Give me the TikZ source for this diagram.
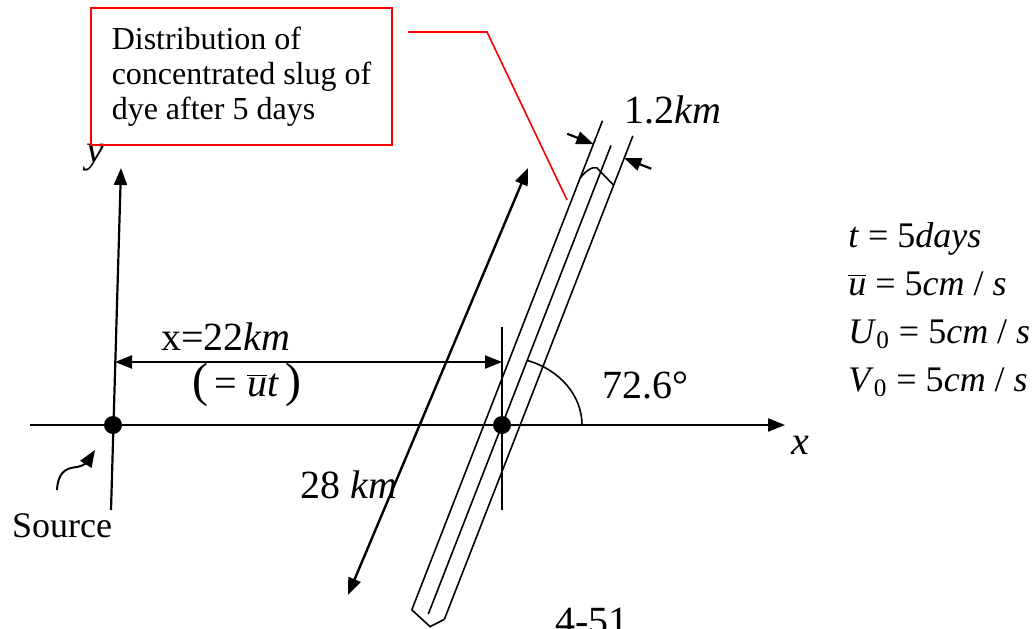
\documentclass[tikz,border=0pt]{standalone}
\usepackage{fontspec}
\setmainfont{Liberation Serif}
\usetikzlibrary{arrows.meta,positioning}

\begin{document}
\begin{tikzpicture}[
        x=0.5pt, y=0.5pt,
        tip/.style={-{Triangle[length=8.5pt,width=6.5pt]}},
        axis/.style={line width=1.1pt, tip},
        dimarrow/.style={line width=1.2pt, {Triangle[length=8.5pt,width=6.5pt]}-{Triangle[length=8.5pt,width=6.5pt]}},
        slugline/.style={line width=0.8pt},
        leader/.style={draw=red, line width=0.8pt},
        lbl/.style={inner sep=0pt, font=\fontsize{20}{24}\selectfont},
        eqn/.style={anchor=base west, inner sep=0pt, font=\fontsize{18}{24}\selectfont},
        dot/.style={circle, fill=black, minimum size=9pt, inner sep=0pt}
      ]
      \useasboundingbox (0,0) rectangle (1032,628);

      % axes
      \coordinate (xstart) at (30,203);
      \coordinate (xend) at (785,203);
      \coordinate (ybot) at (111,118);
      \coordinate (ytop) at (121,460);
      \draw[axis] (xstart) -- (xend);
      \draw[axis] (ybot) -- (ytop);
      \node[lbl, font=\fontsize{20}{24}\selectfont\itshape] (xlab) at (800,183) {x};
      \node[lbl, font=\fontsize{20}{24}\selectfont\itshape] (ylab) at (95,470) {y};

      \node[dot] (src) at (113,203) {};
      \node[dot] (slugc) at (502,203) {};

      % source
      \node[lbl, font=\fontsize{18}{24}\selectfont, anchor=base] (srclab) at (62,91) {Source};
      \coordinate (curlA) at (57,138);
      \coordinate (curlB) at (95,178);
      \draw[line width=1pt, tip] (curlA) .. controls (58,155) and (65,160) .. (77,161)
        .. controls (84,162) and (88,167) .. (curlB);

      % distance x
      \coordinate (tickbot) at (502,118);
      \coordinate (ticktop) at (502,301);
      \draw[slugline] (tickbot) -- (ticktop);
      \coordinate (xdA) at (115,266);
      \coordinate (xdB) at (502,266);
      \draw[dimarrow, line width=1.1pt] (xdA) -- (xdB);
      \node[lbl] (xdist) at (226,291) {x=22\textit{km}};
      \node[lbl] (xut) at (247,243) {{\fontsize{24}{24}\selectfont(}\,= \(\overline{\textit{u}}\)\textit{t}\,{\fontsize{24}{24}\selectfont)}};

      % slug of dye
      \begin{scope}[shift={(slugc)}, rotate=68.7, slugline]
        \draw (-205,16.9) -- (320,16.9);
        \draw (-203,0) -- (300,0);
        \draw (-202,-16.9) -- (317,-16.9);
        \draw (258,16.9) .. controls (266,15) and (274,10) .. (274,5) -- (264,-16.9);
        \draw (-205,16.9) -- (-214,-6.3) -- (-202,-16.9);
        \draw[tip, line width=1.1pt] (295,45) -- (295,16.9);
        \draw[tip, line width=1.1pt] (293,-46) -- (293,-16.9);
      \end{scope}
      \node[lbl] (width) at (673,518) {1.2\textit{km}};

      % angle
      \draw[slugline] ([xshift=40pt]slugc.center) arc[start angle=0, end angle=71, x radius=80, y radius=68];
      \node[lbl] (angle) at (645,243) {72.6°};

      % length
      \coordinate (lenA) at (348,33);
      \coordinate (lenB) at (528,460);
      \draw[dimarrow] (lenA) -- (lenB);
      \node[lbl] (len) at (349,143) {28 \textit{km}};

      % note
      \node[draw=red, line width=0.8pt, minimum width=150.5pt, minimum height=68.5pt,
            align=left, font=\fontsize{16}{17.5}\selectfont] (note) at (241.5,551.5)
        {Distribution of\\concentrated slug of\\dye after 5 days};
      \coordinate (ldA) at (408,596);
      \coordinate (ldB) at (567,428);
      \draw[leader] (ldA) -- (487,596) -- (ldB);

      % data
      \node[eqn] (eqt) at (848,381) {\textit{t} = 5\textit{days}};
      \node[eqn] (equ) at (848,333) {\(\overline{\textit{u}}\) = 5\textit{cm} / \textit{s}};
      \node[eqn] (eqU) at (848,285) {\textit{U}\textsubscript{0} = 5\textit{cm} / \textit{s}};
      \node[eqn] (eqV) at (848,237) {\textit{V}\textsubscript{0} = 5\textit{cm} / \textit{s}};

      \node[lbl, anchor=base] (page) at (592,-6) {4-51};
    \end{tikzpicture}
\end{document}
